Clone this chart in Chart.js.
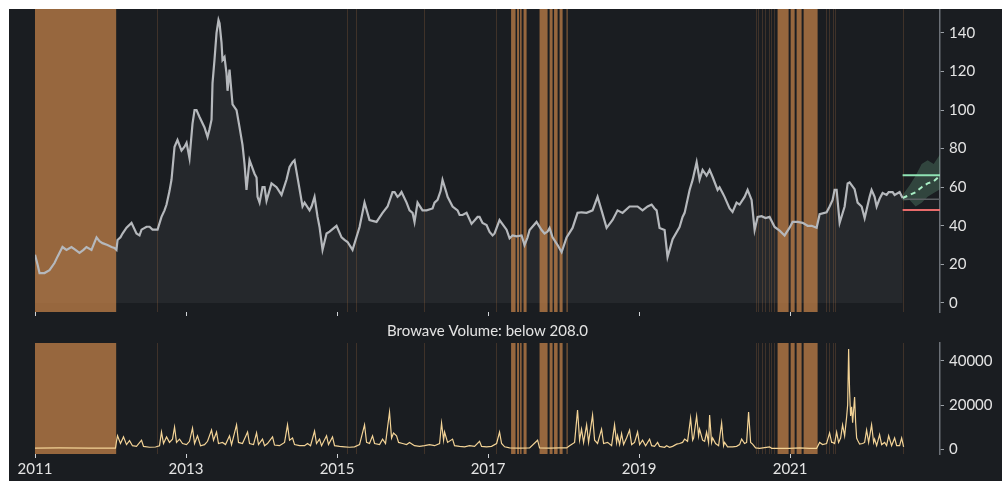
<!DOCTYPE html>
<html>
<head>
<meta charset="utf-8">
<script src="https://cdn.jsdelivr.net/npm/chart.js@4.4.0/dist/chart.umd.min.js"></script>
<style>
  html, body { margin: 0; padding: 0; background: #ffffff; }
  #frame { position: absolute; left: 9px; top: 9px; width: 993px; height: 472px; background: #1a1d21; overflow: hidden; }
  #priceBox { position: absolute; left: 0; top: 0; width: 993px; height: 313px; }
  #volumeBox { position: absolute; left: 0; top: 313px; width: 993px; height: 159px; }
</style>
</head>
<body>
<div id="frame">
  <div id="priceBox"><canvas id="priceChart"></canvas></div>
  <div id="volumeBox"><canvas id="volumeChart"></canvas></div>
</div>
<script>
// ---- data (x in decimal years) ----
const yearTicks = [2011, 2013, 2015, 2017, 2019, 2021]
const priceTicks = [0, 20, 40, 60, 80, 100, 120, 140]
const volumeTicks = [0, 20000, 40000]

const priceYears = [
  2011.000, 2011.033, 2011.060, 2011.126, 2011.192, 2011.258, 2011.298, 2011.364, 2011.417, 2011.483,
  2011.536, 2011.589, 2011.642, 2011.682, 2011.748, 2011.815, 2011.854, 2011.894, 2011.960, 2012.013,
  2012.053, 2012.079, 2012.093, 2012.132, 2012.159, 2012.212, 2012.278, 2012.344, 2012.384, 2012.411,
  2012.477, 2012.517, 2012.556, 2012.623, 2012.675, 2012.715, 2012.742, 2012.781, 2012.808, 2012.848,
  2012.887, 2012.940, 2012.980, 2013.007, 2013.046, 2013.086, 2013.113, 2013.139, 2013.179, 2013.245,
  2013.285, 2013.311, 2013.338, 2013.351, 2013.377, 2013.404, 2013.430, 2013.444, 2013.470, 2013.483,
  2013.510, 2013.536, 2013.550, 2013.576, 2013.616, 2013.669, 2013.709, 2013.748, 2013.775, 2013.801,
  2013.841, 2013.907, 2013.934, 2013.947, 2013.974, 2014.013, 2014.040, 2014.066, 2014.132, 2014.199,
  2014.265, 2014.331, 2014.371, 2014.411, 2014.437, 2014.477, 2014.543, 2014.570, 2014.636, 2014.662,
  2014.702, 2014.742, 2014.768, 2014.808, 2014.861, 2014.901, 2014.993, 2015.060, 2015.099, 2015.139,
  2015.205, 2015.272, 2015.298, 2015.364, 2015.430, 2015.523, 2015.603, 2015.669, 2015.735, 2015.762,
  2015.801, 2015.828, 2015.854, 2015.921, 2015.960, 2016.000, 2016.026, 2016.066, 2016.132, 2016.185,
  2016.265, 2016.291, 2016.331, 2016.371, 2016.397, 2016.450, 2016.464, 2016.530, 2016.596, 2016.623,
  2016.662, 2016.715, 2016.781, 2016.861, 2016.887, 2016.927, 2016.980, 2017.020, 2017.060, 2017.086,
  2017.152, 2017.245, 2017.285, 2017.325, 2017.377, 2017.444, 2017.483, 2017.523, 2017.550, 2017.642,
  2017.709, 2017.748, 2017.788, 2017.815, 2017.854, 2017.921, 2017.974, 2018.040, 2018.119, 2018.185,
  2018.238, 2018.305, 2018.384, 2018.450, 2018.503, 2018.570, 2018.649, 2018.715, 2018.781, 2018.874,
  2018.980, 2019.046, 2019.113, 2019.166, 2019.205, 2019.232, 2019.271, 2019.338, 2019.377, 2019.444,
  2019.536, 2019.576, 2019.603, 2019.669, 2019.709, 2019.762, 2019.801, 2019.841, 2019.894, 2019.934,
  2019.974, 2020.040, 2020.066, 2020.106, 2020.132, 2020.199, 2020.238, 2020.291, 2020.331, 2020.397,
  2020.437, 2020.490, 2020.530, 2020.570, 2020.623, 2020.675, 2020.728, 2020.795, 2020.861, 2020.927,
  2020.993, 2021.033, 2021.099, 2021.166, 2021.232, 2021.285, 2021.351, 2021.391, 2021.483, 2021.523,
  2021.563, 2021.589, 2021.616, 2021.656, 2021.722, 2021.762, 2021.788, 2021.854, 2021.894, 2021.947,
  2021.987, 2022.053, 2022.079, 2022.119, 2022.146, 2022.185, 2022.225, 2022.278, 2022.305, 2022.358,
  2022.384, 2022.450, 2022.490
]
const priceValues = [
  25, 20, 15.5, 15.5, 17, 20.7, 24, 29, 27.5, 29,
  27.5, 26, 27.5, 29, 27.5, 34, 32, 31, 30, 29,
  28.5, 27.5, 32.6, 34, 36, 39, 41.5, 36, 35, 38,
  39.5, 39.5, 38, 38, 44.6, 48, 51, 58, 64, 81,
  84.5, 79, 81, 83, 75, 93, 100, 100, 96.4, 91,
  86, 90, 95, 114, 126, 140, 146.7, 145, 135, 126,
  127.5, 119, 110, 121, 103, 100, 91, 82, 72, 58.6,
  74, 67, 65, 55, 52, 60, 60, 53, 62, 60,
  56, 64, 70.5, 73, 74, 65, 50, 52, 48, 50,
  55, 44.6, 39.4, 27.5, 36, 37, 40, 34, 32.7, 31.6,
  27.5, 36, 39.4, 52, 43, 42, 46.7, 50, 57.5, 57.5,
  55, 56, 57.5, 52, 48, 46.7, 42, 52, 48, 48,
  49, 52, 53.4, 58, 63.8, 57, 55, 50, 48, 45.6,
  45.6, 46.7, 41, 44.6, 44.6, 41.5, 40.4, 36.8, 35, 36,
  43, 38, 33.5, 35, 34.5, 35, 30, 34, 37.8, 42,
  37.8, 36, 37, 38.9, 34, 30, 26.4, 34, 38.9, 46.7,
  47, 46.7, 48, 55, 48, 38.9, 43, 48, 46.7, 50,
  50, 48, 50, 51, 49, 48, 38.9, 37.8, 23.8, 33,
  39.4, 44.6, 46.7, 58.6, 63.8, 73, 64, 69, 66, 69,
  65.3, 58.6, 60, 57, 55, 49, 47.2, 52, 51, 55,
  58.6, 53.4, 37.8, 44.6, 45, 44, 44.6, 39.4, 37.5, 35,
  39, 42, 42, 41.5, 40, 40, 39, 46, 47, 50,
  53.4, 58.6, 58.6, 41.5, 50, 62, 62.5, 59, 52, 50,
  44, 55, 58.6, 55, 50, 54, 57, 56, 57.5, 57.5,
  56, 57.5, 54.4
]

const volumeYears = [
  2011.000, 2011.320, 2011.720, 2012.066, 2012.079, 2012.093, 2012.132, 2012.172, 2012.212, 2012.252,
  2012.291, 2012.344, 2012.411, 2012.437, 2012.517, 2012.596, 2012.649, 2012.675, 2012.702, 2012.742,
  2012.781, 2012.821, 2012.848, 2012.874, 2012.914, 2012.954, 2013.007, 2013.046, 2013.086, 2013.113,
  2013.152, 2013.192, 2013.245, 2013.285, 2013.338, 2013.364, 2013.404, 2013.430, 2013.483, 2013.523,
  2013.576, 2013.603, 2013.669, 2013.695, 2013.748, 2013.815, 2013.841, 2013.894, 2013.934, 2013.960,
  2014.013, 2014.040, 2014.079, 2014.146, 2014.172, 2014.238, 2014.305, 2014.344, 2014.371, 2014.411,
  2014.437, 2014.503, 2014.570, 2014.609, 2014.649, 2014.702, 2014.728, 2014.768, 2014.795, 2014.861,
  2014.887, 2014.940, 2014.967, 2015.033, 2015.099, 2015.166, 2015.232, 2015.298, 2015.364, 2015.391,
  2015.430, 2015.470, 2015.497, 2015.563, 2015.603, 2015.642, 2015.695, 2015.722, 2015.748, 2015.788,
  2015.815, 2015.868, 2015.921, 2015.960, 2016.026, 2016.093, 2016.159, 2016.225, 2016.291, 2016.358,
  2016.384, 2016.411, 2016.424, 2016.464, 2016.530, 2016.556, 2016.623, 2016.689, 2016.755, 2016.821,
  2016.887, 2016.914, 2016.980, 2017.046, 2017.113, 2017.152, 2017.179, 2017.219, 2017.285, 2017.417,
  2017.550, 2017.656, 2017.682, 2017.815, 2017.947, 2018.040, 2018.079, 2018.146, 2018.185, 2018.212,
  2018.238, 2018.265, 2018.305, 2018.331, 2018.384, 2018.411, 2018.450, 2018.503, 2018.530, 2018.583,
  2018.636, 2018.675, 2018.702, 2018.715, 2018.742, 2018.768, 2018.795, 2018.834, 2018.874, 2018.901,
  2018.940, 2018.980, 2019.007, 2019.046, 2019.086, 2019.139, 2019.166, 2019.205, 2019.245, 2019.271,
  2019.338, 2019.364, 2019.404, 2019.444, 2019.497, 2019.536, 2019.576, 2019.603, 2019.642, 2019.682,
  2019.709, 2019.722, 2019.762, 2019.788, 2019.801, 2019.841, 2019.868, 2019.894, 2019.920, 2019.934,
  2019.960, 2019.974, 2020.013, 2020.053, 2020.093, 2020.119, 2020.132, 2020.172, 2020.238, 2020.291,
  2020.331, 2020.358, 2020.397, 2020.424, 2020.450, 2020.477, 2020.503, 2020.543, 2020.596, 2020.728,
  2020.755, 2020.993, 2021.126, 2021.258, 2021.351, 2021.391, 2021.430, 2021.483, 2021.523, 2021.550,
  2021.563, 2021.589, 2021.616, 2021.642, 2021.669, 2021.695, 2021.722, 2021.748, 2021.762, 2021.775,
  2021.788, 2021.801, 2021.815, 2021.828, 2021.841, 2021.854, 2021.868, 2021.881, 2021.894, 2021.921,
  2021.960, 2021.987, 2022.013, 2022.040, 2022.079, 2022.106, 2022.119, 2022.146, 2022.185, 2022.212,
  2022.252, 2022.278, 2022.305, 2022.344, 2022.384, 2022.411, 2022.450, 2022.477, 2022.503
]
const volumeValues = [
  400, 500, 400, 400, 3500, 6000, 2500, 5500, 2000, 3800,
  1500, 1200, 4000, 1200, 800, 900, 1500, 7700, 2500, 5500,
  3000, 4500, 10000, 3000, 4500, 2500, 2000, 3500, 9500, 2500,
  6000, 1500, 2000, 3500, 8600, 4000, 7700, 2500, 3000, 2000,
  6000, 2000, 11000, 3000, 2500, 7700, 2500, 2000, 7300, 2000,
  4500, 1500, 2500, 5500, 1800, 1500, 3000, 11000, 4000, 5000,
  2000, 1500, 1500, 2500, 1500, 8100, 2500, 4500, 1500, 6000,
  2000, 5500, 1500, 1200, 1000, 800, 1000, 2000, 11000, 3000,
  2500, 6000, 2500, 2000, 4500, 2500, 16800, 5000, 7300, 6000,
  3000, 2500, 2000, 3000, 1500, 1200, 1500, 2000, 1500, 2500,
  11800, 4000, 7700, 3000, 4500, 1500, 1200, 1000, 1500, 1200,
  3500, 1200, 1000, 1200, 2500, 7700, 2500, 1000, 500, 400,
  500, 4000, 500, 400, 500, 500, 1500, 3000, 17700, 4000,
  9000, 3000, 11000, 3000, 15400, 4000, 2500, 9000, 2500, 3000,
  1500, 11000, 3000, 6000, 2000, 7000, 2000, 5000, 8600, 2000,
  3000, 7700, 2000, 4000, 1500, 4500, 1500, 1200, 3000, 1200,
  800, 1500, 800, 1200, 2200, 2500, 3000, 4500, 3500, 14000,
  4000, 5000, 15000, 6000, 9000, 4000, 3500, 7700, 3000, 15400,
  3000, 5000, 2500, 1500, 11800, 1500, 3000, 1000, 1000, 1200,
  2000, 4500, 2500, 3000, 16800, 3000, 2200, 500, 300, 1000,
  300, 300, 500, 300, 300, 3000, 2000, 2500, 7300, 3000,
  3000, 2500, 7700, 3000, 5000, 11000, 6000, 14400, 20000, 45500,
  26000, 15000, 19200, 12000, 17700, 23600, 12000, 5000, 4000, 2200,
  2500, 3000, 8600, 3000, 11000, 3000, 4500, 1500, 6500, 2000,
  3000, 1500, 6000, 1500, 5000, 1500, 1500, 5000, 1000
]

// days where volume stayed below 208 (start, end)
const lowVolumeSpans = [
  [2011.000, 2012.075],
  [2012.621, 2012.625], [2015.137, 2015.141], [2015.256, 2015.260],
  [2016.157, 2016.161], [2017.111, 2017.115],
  [2017.305, 2017.364], [2017.384, 2017.411], [2017.424, 2017.444], [2017.470, 2017.510],
  [2017.682, 2017.788], [2017.815, 2017.854], [2017.874, 2017.921], [2017.947, 2017.987],
  [2018.040, 2018.053],
  [2020.554, 2020.558], [2020.581, 2020.585], [2020.634, 2020.638], [2020.673, 2020.677],
  [2020.726, 2020.730], [2020.753, 2020.757], [2020.793, 2020.797],
  [2020.834, 2020.980], [2021.007, 2021.060], [2021.086, 2021.152], [2021.179, 2021.364],
  [2021.481, 2021.485], [2021.521, 2021.525], [2021.574, 2021.578], [2021.601, 2021.605],
  [2022.501, 2022.505]
]

// projection after the last close
const forecastYears = [2022.490, 2022.583, 2022.662, 2022.742, 2022.821, 2022.901, 2022.985]
const forecastMid = [54.4, 56, 57.4, 60, 62, 63, 66]
const forecastHigh = [56, 61, 66, 72, 74, 72, 77]
const forecastLow = [53, 53.4, 50, 52, 55, 57, 59]
const targetLevel = 66.2
const stopLevel = 48.2
const lastLevel = 53.8
const xMin = 2011.0
const xMax = 2022.985

const pts = (xs, ys) => xs.map((x, i) => ({x, y: ys[i]}))
const flat = (v) => [{x: forecastYears[0], y: v}, {x: xMax, y: v}]

Chart.defaults.font.family = 'Lato, "Noto Sans", sans-serif'
Chart.defaults.color = '#e4e4e4'

const bandPlugin = {
  id: 'lowVolumeBands',
  drawBands(chart, opts) {
    const {ctx, chartArea: a, scales: {x}} = chart
    ctx.save()
    ctx.beginPath()
    ctx.rect(a.left, a.top, a.width, a.height)
    ctx.clip()
    ctx.fillStyle = opts.color
    lowVolumeSpans.forEach(([s, e]) => {
      const x0 = x.getPixelForValue(s)
      const x1 = x.getPixelForValue(e)
      ctx.fillRect(x0, a.top, x1 - x0, a.height)
    })
    ctx.restore()
  },
  beforeDatasetsDraw(chart, args, opts) {
    if (opts.afterIndex === -1) this.drawBands(chart, opts)
  },
  afterDatasetDraw(chart, args, opts) {
    if (args.index === opts.afterIndex) this.drawBands(chart, opts)
  }
}

function xScale(showLabels, height) {
  return {
    type: 'linear', min: xMin, max: xMax,
    afterBuildTicks: s => { s.ticks = yearTicks.map(v => ({value: v})) },
    afterFit: s => { s.height = height; s.paddingLeft = 0; s.paddingRight = 0 },
    border: {display: false},
    grid: {drawOnChartArea: false, drawTicks: true, tickLength: 4, tickColor: '#d0d3d7', tickWidth: 1},
    ticks: {display: showLabels, autoSkip: false, maxRotation: 0, padding: 2,
      font: {size: 15}, color: '#e4e4e4', callback: v => String(v)}
  }
}

function yScale(min, max, tickValues) {
  return {
    type: 'linear', position: 'right', min, max,
    afterBuildTicks: s => { s.ticks = tickValues.map(v => ({value: v})) },
    afterFit: s => { s.width = 62; s.paddingTop = 0; s.paddingBottom = 0 },
    border: {display: true, color: '#6b7077', width: 1.5},
    grid: {drawOnChartArea: false, drawTicks: true, tickLength: 4, tickColor: '#9ba0a6'},
    ticks: {padding: 5, font: {size: 15}, color: '#e4e4e4', callback: v => String(v)}
  }
}

const common = {
  responsive: true, maintainAspectRatio: false, animation: false, events: [],
  devicePixelRatio: 1,
  elements: {point: {radius: 0}, line: {tension: 0}},
}

new Chart(document.getElementById('priceChart'), {
  type: 'line',
  data: {
    datasets: [
      {data: pts(priceYears, priceValues), borderWidth: 0, fill: 'origin',
        backgroundColor: 'rgba(255,255,255,0.05)', order: 5},
      {data: pts(priceYears, priceValues), borderColor: '#b5b8bc', borderWidth: 2.2, fill: false, order: 1},
      {data: pts(forecastYears, forecastHigh), borderWidth: 0, fill: '+1',
        backgroundColor: 'rgba(110,175,140,0.28)', order: 4},
      {data: pts(forecastYears, forecastLow), borderWidth: 0, fill: false, order: 4},
      {data: pts(forecastYears, forecastMid), borderColor: '#a9efc6', borderWidth: 2,
        borderDash: [5, 4], fill: false, order: 2},
      {data: flat(targetLevel), borderColor: '#8fe3b4', borderWidth: 2, fill: false, order: 2},
      {data: flat(stopLevel), borderColor: '#e86b6b', borderWidth: 2, fill: false, order: 2},
      {data: flat(lastLevel), borderColor: '#5b5f63', borderWidth: 1.5, fill: false, order: 3}
    ]
  },
  options: {
    ...common,
    layout: {padding: {left: 26, top: 0, right: 0, bottom: 0}},
    plugins: {
      legend: {display: false}, tooltip: {enabled: false},
      lowVolumeBands: {afterIndex: 0, color: 'rgba(205,135,75,0.7)'}
    },
    scales: {x: xScale(false, 10), y: yScale(-4.7, 152.4, priceTicks)}
  },
  plugins: [bandPlugin]
})

new Chart(document.getElementById('volumeChart'), {
  type: 'line',
  data: {
    datasets: [
      {data: pts(volumeYears, volumeValues), borderColor: '#f3d396', borderWidth: 1.2, fill: false}
    ]
  },
  options: {
    ...common,
    layout: {padding: {left: 26, top: 0, right: 0, bottom: 0}},
    plugins: {
      legend: {display: false}, tooltip: {enabled: false},
      title: {display: true, fullSize: false, text: 'Browave Volume: below 208.0', color: '#e4e4e4',
        font: {size: 15, weight: 'normal'}, padding: {top: 0, bottom: 3}},
      lowVolumeBands: {afterIndex: -1, color: 'rgba(205,135,75,0.7)'}
    },
    scales: {x: xScale(true, 27), y: yScale(-2270, 48180, volumeTicks)}
  },
  plugins: [bandPlugin]
})
</script>
</body>
</html>
